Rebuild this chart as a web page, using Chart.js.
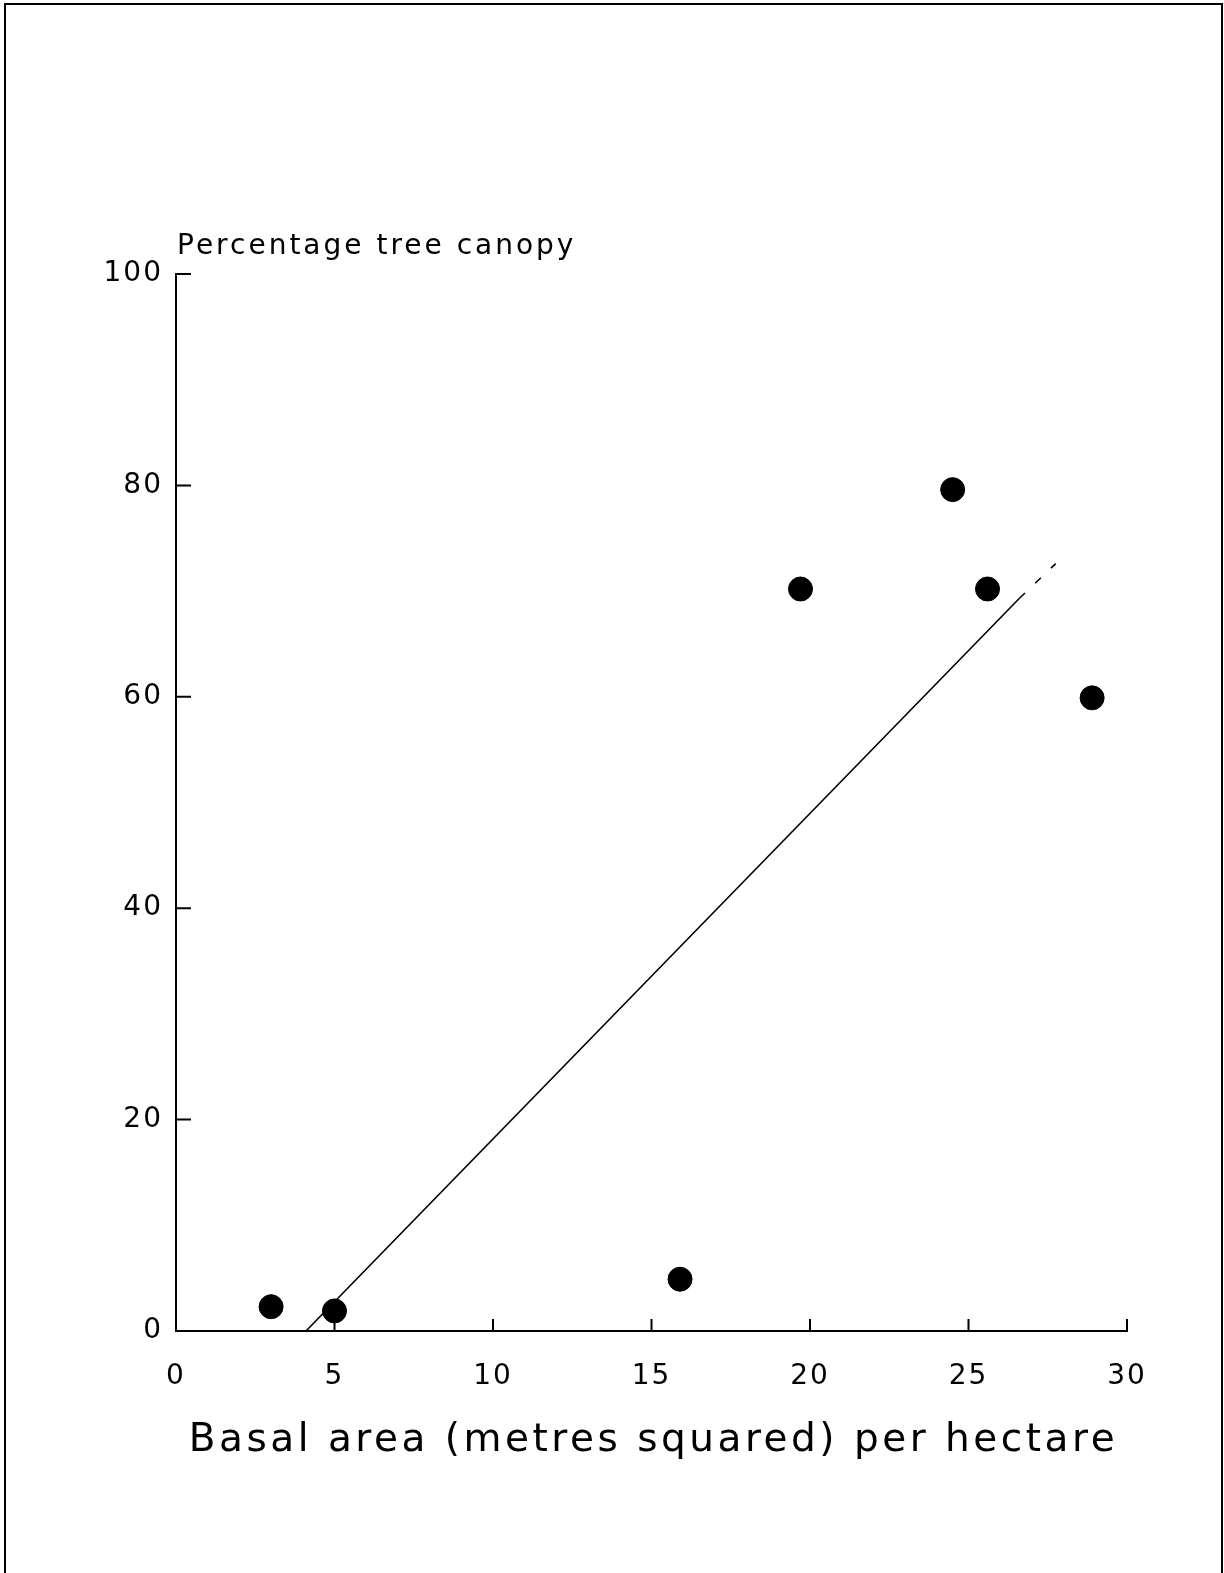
<!DOCTYPE html>
<html>
<head>
<meta charset="utf-8">
<title>Basal area vs tree canopy</title>
<script src="https://cdn.jsdelivr.net/npm/chart.js@4/dist/chart.umd.min.js"></script>
<style>
  html, body { margin: 0; padding: 0; background: #fff; }
  #wrap { position: relative; width: 1224px; height: 1573px; overflow: hidden; }
  #frame {
    position: absolute; left: 4px; top: 3px; width: 1219px; height: 1600px;
    border: 2px solid #000; border-bottom: none; box-sizing: border-box;
  }
  canvas { position: absolute; left: 0; top: 0; }
</style>
</head>
<body>
<div id="wrap">
  <div id="frame"></div>
  <canvas id="chart" width="1224" height="1573"></canvas>
</div>
<script>
// ---- data ----
const basalArea = [3.0, 5.0, 15.9, 19.7, 24.5, 25.6, 28.9];
const canopyPct = [2.3, 1.9, 4.9, 70.2, 79.6, 70.2, 59.9];

// fitted line: solid part, then a short dashed tail
const fitX = [4.1, 26.6, 27.75];
const fitY = [0, 69.3, 72.6];

const xTicks = [0, 5, 10, 15, 20, 25, 30];
const yTicks = [0, 20, 40, 60, 80, 100];

const xTitle = 'Basal area (metres squared) per hectare';
const yTitle = 'Percentage tree canopy';

const FONT = '"DejaVu Sans", sans-serif';

// wide letter spacing like the plotter lettering
const spacing = {
  id: 'spacing',
  beforeUpdate(chart) { chart.ctx.letterSpacing = '2px'; },
  beforeDraw(chart) { chart.ctx.letterSpacing = '2px'; }
};

// tick marks pointing into the plot + axis titles
const marks = {
  id: 'marks',
  afterDatasetsDraw(chart) {
    const { ctx, chartArea, scales } = chart;
    ctx.save();
    ctx.strokeStyle = '#000';
    ctx.lineWidth = 2;
    ctx.beginPath();
    xTicks.forEach(v => {
      const px = scales.x.getPixelForValue(v);
      ctx.moveTo(px, chartArea.bottom);
      ctx.lineTo(px, chartArea.bottom - 12);
    });
    yTicks.forEach(v => {
      const py = scales.y.getPixelForValue(v);
      ctx.moveTo(chartArea.left, py);
      ctx.lineTo(chartArea.left + 15, py);
    });
    ctx.stroke();

    ctx.fillStyle = '#000';
    ctx.letterSpacing = '3px';
    ctx.font = '28px ' + FONT;
    ctx.textAlign = 'left';
    ctx.textBaseline = 'alphabetic';
    ctx.fillText(yTitle, chartArea.left + 1, chartArea.top - 20);

    ctx.letterSpacing = '3.5px';
    ctx.font = '39px ' + FONT;
    ctx.textAlign = 'center';
    ctx.fillText(xTitle, (chartArea.left + chartArea.right) / 2 + 2, chartArea.bottom + 120);
    ctx.restore();
  }
};

new Chart(document.getElementById('chart'), {
  type: 'scatter',
  data: {
    datasets: [
      {
        type: 'line',
        data: fitX.map((x, i) => ({ x: x, y: fitY[i] })),
        borderColor: '#000',
        borderWidth: 1.6,
        pointRadius: 0,
        fill: false,
        segment: {
          borderDash: ctx => ctx.p0DataIndex === 1 ? [8, 14] : undefined
        }
      },
      {
        data: basalArea.map((x, i) => ({ x: x, y: canopyPct[i] })),
        backgroundColor: '#000',
        borderColor: '#000',
        pointRadius: 12,
        pointHoverRadius: 12
      }
    ]
  },
  options: {
    responsive: false,
    animation: false,
    events: [],
    layout: { padding: { top: 274, left: 0, right: 97, bottom: 0 } },
    plugins: { legend: { display: false }, tooltip: { enabled: false } },
    scales: {
      x: {
        type: 'linear',
        min: 0, max: 30,
        afterBuildTicks: s => { s.ticks = xTicks.map(v => ({ value: v })); },
        afterFit: s => { s.height = 242; },
        grid: { drawOnChartArea: false, drawTicks: false },
        border: { display: true, color: '#000', width: 2 },
        ticks: { color: '#000', padding: 29, maxRotation: 0, font: { family: FONT, size: 28 } }
      },
      y: {
        type: 'linear',
        min: 0, max: 100,
        afterBuildTicks: s => { s.ticks = yTicks.map(v => ({ value: v })); },
        afterFit: s => { s.width = 176; },
        grid: { drawOnChartArea: false, drawTicks: false },
        border: { display: true, color: '#000', width: 2 },
        ticks: { color: '#000', padding: 13, font: { family: FONT, size: 28 } }
      }
    }
  },
  plugins: [spacing, marks]
});
</script>
</body>
</html>
